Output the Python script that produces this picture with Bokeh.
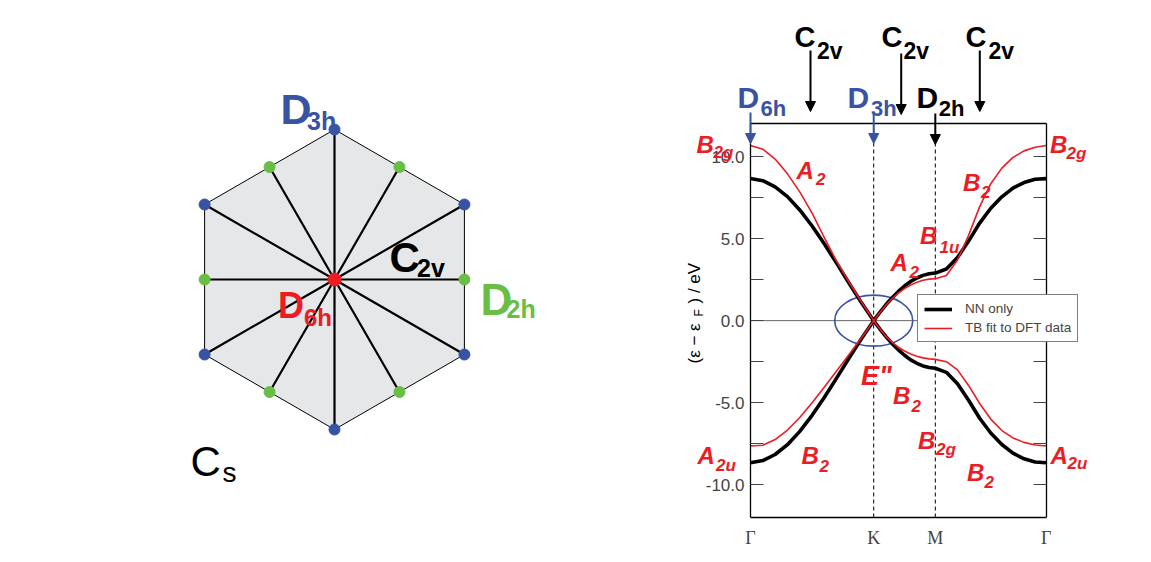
import numpy as np
from bokeh.plotting import figure
from bokeh.layouts import row
from bokeh.models import (Range1d, FixedTicker, NumeralTickFormatter, CustomJSTickFormatter,
                          LinearAxis, Label, Arrow, NormalHead, Legend, LegendItem)
from bokeh.embed import file_html
from bokeh.resources import INLINE

# ---------------- data ----------------
path_labels = ["Γ", "K", "M", "Γ"]
path_pos = [0.0, 1.0, 1.5, 2.4]
energy_range = [-12.0, 12.0]
energy_ticks = [-10.0, -5.0, 0.0, 5.0, 10.0]
energy_minor_ticks = [-7.5, -2.5, 2.5, 7.5]

k_GK = [0.0, 0.1, 0.2, 0.3, 0.4, 0.5, 0.6, 0.7, 0.8, 0.9, 1.0]
k_KM = [1.0, 1.05, 1.1, 1.15, 1.2, 1.25, 1.3, 1.35, 1.4, 1.45, 1.5]
k_MG = [1.5, 1.59, 1.68, 1.77, 1.86, 1.95, 2.04, 2.13, 2.22, 2.31, 2.4]

nn_up_GK = [8.66, 8.53, 8.16, 7.56, 6.75, 5.77, 4.67, 3.49, 2.28, 1.10, 0.00]
nn_up_KM = [0.00, 0.51, 0.98, 1.40, 1.78, 2.11, 2.39, 2.60, 2.76, 2.86, 2.90]
nn_up_MG = [2.90, 3.15, 3.85, 4.85, 5.95, 6.85, 7.55, 8.08, 8.42, 8.62, 8.66]
nn_dn_GK = [-8.66, -8.53, -8.16, -7.56, -6.75, -5.77, -4.67, -3.49, -2.28, -1.10, 0.00]
nn_dn_KM = [0.00, -0.51, -0.98, -1.40, -1.78, -2.11, -2.39, -2.60, -2.76, -2.86, -2.90]
nn_dn_MG = [-2.90, -3.15, -3.85, -4.85, -5.95, -6.85, -7.55, -8.08, -8.42, -8.62, -8.66]

tb_up_GK = [10.68, 10.45, 9.85, 8.95, 7.85, 6.55, 5.05, 3.60, 2.35, 1.15, 0.00]
tb_up_KM = [0.00, 0.50, 0.95, 1.35, 1.68, 1.95, 2.17, 2.34, 2.46, 2.53, 2.56]
tb_up_MG = [2.56, 2.75, 3.70, 5.20, 6.95, 8.35, 9.30, 9.95, 10.35, 10.57, 10.68]
tb_dn_GK = [-7.64, -7.60, -7.25, -6.67, -5.90, -5.00, -4.04, -3.06, -2.07, -1.06, 0.00]
tb_dn_KM = [0.00, -0.50, -0.96, -1.33, -1.62, -1.85, -2.03, -2.17, -2.27, -2.33, -2.36]
tb_dn_MG = [-2.36, -2.50, -3.00, -3.95, -5.05, -6.00, -6.70, -7.15, -7.42, -7.58, -7.64]

series_names = ["NN only", "TB fit to DFT data"]

# irreducible representations written on the bands (main letter, subscript)
irrep_main = ["B", "A", "B", "B", "B", "A", 'E"', "B", "A", "B", "B", "B", "A"]
irrep_sub = ["2g", "2", "2g", "2", "1u", "2", "", "2", "2u", "2", "2g", "2", "2u"]

# point groups of the k-points / lines (main letter, subscript)
kgroup_main = ["D", "D", "D"]
kgroup_sub = ["6h", "3h", "2h"]
line_group_main = ["C", "C", "C"]
line_group_sub = ["2v", "2v", "2v"]

# Brillouin-zone diagram
bz_vertex_angles_deg = [90, 150, 210, 270, 330, 30]
bz_mid_angles_deg = [0, 60, 120, 180, 240, 300]
bz_labels_main = ["D", "C", "D", "D", "C"]
bz_labels_sub = ["3h", "2v", "2h", "6h", "s"]

# ---------------- style / layout (page pixels) ----------------
RED = "#ED1C24"
BLUE = "#3953A4"
GREEN = "#6ABD45"
FILL = "#E6E7E8"
SANS = "Liberation Sans"
SERIF = "Liberation Serif"

H = 560
LEFT_W = 680
RIGHT_W = 471
BORDER_B = 43
FRAME_BOTTOM = H - BORDER_B          # page y of the bottom of both frames

BOX_L, BOX_R, BOX_T = 750.0, 1045.7, 123.3   # page px of the band-plot box
PXX = (BOX_R - BOX_L) / (path_pos[-1] - path_pos[0])
PXY = (FRAME_BOTTOM - BOX_T) / (energy_range[1] - energy_range[0])


def rx(px):
    return path_pos[0] + (px - BOX_L) / PXX


def ry(py):
    return energy_range[1] - (py - BOX_T) / PXY


HEX_CX, HEX_CY, HEX_R = 334.0, 279.0, 150.0


def lx(px):
    return (px - HEX_CX) / HEX_R


def ly(py):
    return (HEX_CY - py) / HEX_R


# ================= left figure: Brillouin zone =================
lp = figure(width=LEFT_W, height=H, x_range=Range1d(lx(0), lx(LEFT_W)),
            y_range=Range1d(ly(FRAME_BOTTOM), ly(0)), x_axis_type=None, y_axis_type=None,
            output_backend="svg", toolbar_location=None,
            min_border_left=0, min_border_right=0, min_border_top=0, min_border_bottom=BORDER_B)
lp.outline_line_color = None
lp.background_fill_color = "white"
lp.border_fill_color = "white"

va = np.radians(bz_vertex_angles_deg)
vx, vy = np.cos(va), np.sin(va)
ma = np.radians(bz_mid_angles_deg)
mx, my = np.cos(ma) * np.cos(np.pi / 6), np.sin(ma) * np.cos(np.pi / 6)

lp.patch(list(vx), list(vy), fill_color=FILL, line_color="black", line_width=1.0)
sx = list(vx) + list(mx)
sy = list(vy) + list(my)
lp.segment(x0=[0.0] * len(sx), y0=[0.0] * len(sy), x1=sx, y1=sy, line_color="black", line_width=2.2)
lp.scatter(list(vx), list(vy), size=11, fill_color=BLUE, line_color=BLUE)
lp.scatter(list(mx), list(my), size=11, fill_color=GREEN, line_color=GREEN)
lp.scatter([0.0], [0.0], size=13, fill_color=RED, line_color=RED)

# main left, main baseline, main size, sub left, sub baseline, sub size, color, style
bz_label_layout = [
    (280, 108.5, 43, 306.5, 120.5, 25, BLUE, "bold"),
    (389, 256.5, 42, 416.5, 267.5, 25, "black", "bold"),
    (480, 298.5, 44, 506.0, 308.5, 25, GREEN, "bold"),
    (277.5, 305.0, 36, 303.5, 317.0, 24, RED, "bold"),
    (190, 461.0, 42, 222.0, 471.5, 28, "black", "normal"),
]
for (m, s, L) in zip(bz_labels_main, bz_labels_sub, bz_label_layout):
    mxp, mbp, msz, sxp, sbp, ssz, col, sty = L
    lp.add_layout(Label(x=lx(mxp), y=ly(mbp), text=m, text_font=SANS, text_font_size=f"{msz}px",
                        text_font_style=sty, text_color=col, text_align="left", text_baseline="alphabetic"))
    lp.add_layout(Label(x=lx(sxp), y=ly(sbp), text=s, text_font=SANS, text_font_size=f"{ssz}px",
                        text_font_style=sty, text_color=col, text_align="left", text_baseline="alphabetic"))

# ================= right figure: band structure =================
p = figure(width=RIGHT_W, height=H,
           x_range=Range1d(rx(LEFT_W), rx(LEFT_W + RIGHT_W)),
           y_range=Range1d(ry(FRAME_BOTTOM), ry(0)),
           output_backend="svg", toolbar_location=None,
           min_border_left=0, min_border_right=0, min_border_top=0, min_border_bottom=BORDER_B)
p.grid.visible = False
p.outline_line_color = None
p.background_fill_color = "white"
p.border_fill_color = "white"

BOX_LW = 1.3

xa = p.xaxis[0]
xa.ticker = FixedTicker(ticks=path_pos)
xa.bounds = (path_pos[0], path_pos[-1])
xa.formatter = CustomJSTickFormatter(args=dict(pos=path_pos, labs=path_labels), code="""
let best = 1e9, idx = 0;
for (let j = 0; j < pos.length; j++) { const d = Math.abs(pos[j] - tick); if (d < best) { best = d; idx = j; } }
return labs[idx];
""")
xa.major_tick_line_color = None
xa.minor_tick_line_color = None
xa.major_label_text_font = SERIF
xa.major_label_text_font_size = "18px"
xa.major_label_standoff = 4
xa.axis_line_color = "black"
xa.axis_line_width = BOX_LW

ya = p.yaxis[0]
ya.fixed_location = path_pos[0]
ya.bounds = tuple(energy_range)
ya.ticker = FixedTicker(ticks=energy_ticks, minor_ticks=energy_minor_ticks)
ya.formatter = NumeralTickFormatter(format="0.0")
ya.major_tick_in, ya.major_tick_out = 13, 0
ya.minor_tick_in, ya.minor_tick_out = 13, 0
ya.major_tick_line_color = "#444444"
ya.minor_tick_line_color = "#444444"
ya.major_label_text_font = SANS
ya.major_label_text_font_size = "17px"
ya.major_label_standoff = 6
ya.axis_line_color = "black"
ya.axis_line_width = BOX_LW

ra = LinearAxis(ticker=FixedTicker(ticks=energy_ticks, minor_ticks=energy_minor_ticks),
                formatter=CustomJSTickFormatter(code="return '';"),
                fixed_location=path_pos[-1], bounds=tuple(energy_range))
ra.major_tick_in, ra.major_tick_out = 13, 0
ra.minor_tick_in, ra.minor_tick_out = 13, 0
ra.major_tick_line_color = "#444444"
ra.minor_tick_line_color = "#444444"
ra.axis_line_color = "black"
ra.axis_line_width = BOX_LW
p.add_layout(ra, "right")

ta = LinearAxis(ticker=FixedTicker(ticks=[]), formatter=CustomJSTickFormatter(code="return '';"),
                fixed_location=energy_range[1], bounds=(path_pos[0], path_pos[-1]))
ta.major_tick_line_color = None
ta.minor_tick_line_color = None
ta.axis_line_color = "black"
ta.axis_line_width = BOX_LW
p.add_layout(ta, "above")

# reference lines: Fermi level and K, M verticals
p.segment(x0=[path_pos[0]], y0=[0.0], x1=[path_pos[-1]], y1=[0.0], line_color="#666666", line_width=1)
p.segment(x0=path_pos[1:3], y0=[energy_range[0]] * 2, x1=path_pos[1:3], y1=[energy_range[1]] * 2,
          line_color="black", line_width=1, line_dash="4 3")

# Dirac-point ellipse
p.ellipse(x=[path_pos[1]], y=[0.0], width=78 / PXX, height=51 / PXY,
          fill_color=None, line_color=BLUE, line_width=1.6)

k_all = k_GK + k_KM[1:] + k_MG[1:]
nn_up = nn_up_GK + nn_up_KM[1:] + nn_up_MG[1:]
nn_dn = nn_dn_GK + nn_dn_KM[1:] + nn_dn_MG[1:]
tb_up = tb_up_GK + tb_up_KM[1:] + tb_up_MG[1:]
tb_dn = tb_dn_GK + tb_dn_KM[1:] + tb_dn_MG[1:]

r_nn = p.line(k_all, nn_up, line_color="black", line_width=3.6, line_join="round")
p.line(k_all, nn_dn, line_color="black", line_width=3.6, line_join="round")
r_tb = p.line(k_all, tb_up, line_color=RED, line_width=1.6, line_join="round")
p.line(k_all, tb_dn, line_color=RED, line_width=1.6, line_join="round")

legend = Legend(items=[LegendItem(label=series_names[0], renderers=[r_nn]),
                       LegendItem(label=series_names[1], renderers=[r_tb])],
                location=(917 - LEFT_W, FRAME_BOTTOM - 342))
legend.border_line_color = "black"
legend.border_line_width = 1
legend.background_fill_color = "white"
legend.background_fill_alpha = 1.0
legend.label_text_font = SANS
legend.label_text_font_size = "13.5px"
legend.glyph_width = 28
legend.glyph_height = 14
legend.label_height = 14
legend.label_standoff = 13
legend.padding = 6
legend.spacing = 4
legend.margin = 0
p.add_layout(legend)


def rlabel(text, px, py, size, color, style="bold italic", angle=0.0, align="left", baseline="alphabetic"):
    p.add_layout(Label(x=rx(px), y=ry(py), text=text, text_font=SANS, text_font_size=f"{size}px",
                       text_font_style=style, text_color=color, text_align=align,
                       text_baseline=baseline, angle=angle))


# irrep labels: (main left, main baseline, sub left, sub baseline) page px
irrep_layout = [
    (696.0, 144.0, 713.0, 151.5),
    (796.0, 170.0, 815.5, 178.0),
    (1049.5, 144.0, 1066.0, 153.0),
    (962.5, 181.5, 980.5, 191.5),
    (919.5, 235.0, 939.0, 246.5),
    (890.0, 261.5, 909.0, 271.5),
    (860.5, 375.0, 0.0, 0.0),
    (892.5, 395.0, 911.0, 405.0),
    (697.0, 455.0, 715.5, 465.0),
    (801.0, 455.0, 819.0, 465.0),
    (917.5, 440.0, 935.5, 448.5),
    (966.5, 471.5, 984.0, 481.5),
    (1050.0, 455.0, 1067.0, 463.0),
]
for m, s, (a, b, c, d) in zip(irrep_main, irrep_sub, irrep_layout):
    rlabel(m, a, b, 27 if m.startswith("E") else 24, RED)
    if s:
        rlabel(s, c, d, 17, RED)

# k-point point groups with arrows
kgroup_colors = [BLUE, BLUE, "black"]
kgroup_text_px = [(737, 96.7, 760, 108.3), (847, 96.7, 870.5, 108.3), (916, 96.7, 938.3, 108.3)]
kgroup_arrow_py = [(112, 143), (112, 143), (113, 144)]
for m, s, col, (a, b, c, d), xk, (y0, y1) in zip(kgroup_main, kgroup_sub, kgroup_colors, kgroup_text_px,
                                                  path_pos[:3], kgroup_arrow_py):
    rlabel(m, a, b, 30, col, style="bold")
    rlabel(s, c, d, 22, col, style="bold")
    p.add_layout(Arrow(end=NormalHead(size=10, fill_color=col, line_color=col), x_start=xk, y_start=ry(y0),
                       x_end=xk, y_end=ry(y1), line_color=col, line_width=2))

# high-symmetry lines (C2v) with arrows
line_text_px = [(794, 36.7, 816.5, 50), (881, 36.7, 903, 50), (965, 36.7, 988, 50)]
line_arrow_px = [(810, 50, 111), (900.7, 53, 114), (979.3, 50, 111)]
for m, s, (a, b, c, d), (ax, y0, y1) in zip(line_group_main, line_group_sub, line_text_px, line_arrow_px):
    rlabel(m, a, b, 29, "black", style="bold")
    rlabel(s, c, d, 23, "black", style="bold")
    p.add_layout(Arrow(end=NormalHead(size=10, fill_color="black", line_color="black"), x_start=rx(ax),
                       y_start=ry(y0), x_end=rx(ax), y_end=ry(y1), line_color="black", line_width=2))

# y-axis label  (ε−ε_F) / eV, rotated
rlabel("(ε − ε", 694, 363, 17, "black", style="normal", angle=np.pi / 2, baseline="middle")
rlabel("F", 698, 316, 12, "black", style="normal", angle=np.pi / 2, baseline="middle")
rlabel(") / eV", 694, 303, 17, "black", style="normal", angle=np.pi / 2, baseline="middle")

layout = row(lp, p)
open("out.html", "w").write(file_html(layout, INLINE))
